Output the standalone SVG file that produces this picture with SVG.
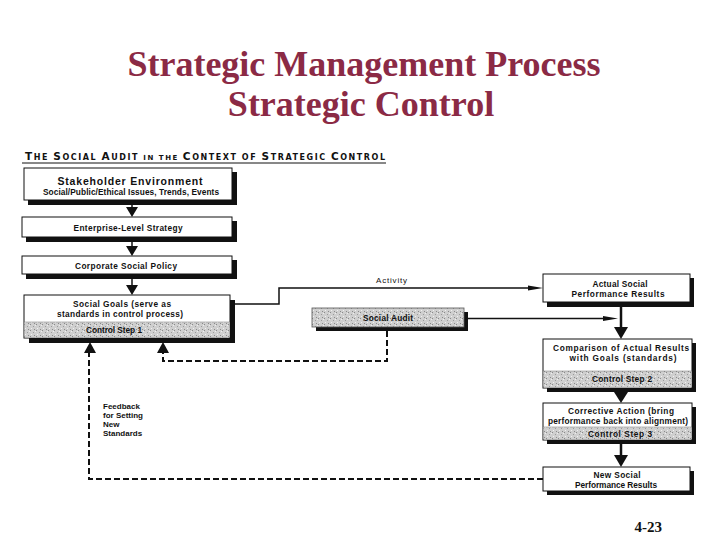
<svg xmlns="http://www.w3.org/2000/svg" width="720" height="540" viewBox="0 0 720 540">
<style>
.title{font-family:"Liberation Serif","Times New Roman",serif;font-weight:bold;font-size:36px;fill:#8b2a45;text-anchor:middle}
.t{font-family:"Liberation Sans",Arial,sans-serif;font-weight:bold;font-size:8.3px;fill:#111;text-anchor:middle}
.tl{font-family:"Liberation Sans",Arial,sans-serif;font-weight:bold;font-size:8px;fill:#111}
.hdr{font-family:"DejaVu Sans",sans-serif;font-weight:bold;fill:#111}
.box{fill:#fff;stroke:#111;stroke-width:1}
.sh{fill:#111}
.band{fill:url(#stip);stroke:none}
.ln{fill:none;stroke:#111;stroke-width:1.5}
.dash{fill:none;stroke:#111;stroke-width:2;stroke-dasharray:6 3}
.ah{fill:#111}
</style>
<defs>
<pattern id="stip" width="6" height="6" patternUnits="userSpaceOnUse">
<rect width="6" height="6" fill="#cfcfcf"/>
<rect x="0" y="0" width="1" height="1" fill="#8a8a8a"/>
<rect x="3" y="2" width="1" height="1" fill="#9a9a9a"/>
<rect x="1" y="4" width="1" height="1" fill="#f0f0f0"/>
<rect x="4" y="5" width="1" height="1" fill="#8a8a8a"/>
<rect x="5" y="1" width="1" height="1" fill="#eeeeee"/>
</pattern>
</defs>
<rect width="720" height="540" fill="#fff"/>

<text class="title" x="364" y="76">Strategic Management Process</text>
<text class="title" x="361" y="116">Strategic Control</text>

<g id="header">
<text class="hdr" x="25" y="160" textLength="360" lengthAdjust="spacing"><tspan font-size="10.5">T</tspan><tspan font-size="8">HE </tspan><tspan font-size="10.5">S</tspan><tspan font-size="8">OCIAL </tspan><tspan font-size="10.5">A</tspan><tspan font-size="8">UDIT </tspan><tspan font-size="7">IN THE </tspan><tspan font-size="10.5">C</tspan><tspan font-size="8">ONTEXT OF </tspan><tspan font-size="10.5">S</tspan><tspan font-size="8">TRATEGIC </tspan><tspan font-size="10.5">C</tspan><tspan font-size="8">ONTROL</tspan></text>
<line x1="22" y1="163" x2="386" y2="163" stroke="#111" stroke-width="1"/>
</g>

<g id="stakeholder">
<rect class="sh" x="28" y="172" width="209" height="33"/>
<rect class="box" x="24" y="168" width="208" height="32"/>
<text class="t" x="130" y="185" style="font-size:10.5px" textLength="145" lengthAdjust="spacing">Stakeholder Environment</text>
<text class="t" x="131" y="195" textLength="176" lengthAdjust="spacing">Social/Public/Ethical Issues, Trends, Events</text>
</g>

<g id="enterprise">
<rect class="sh" x="26" y="221" width="211" height="21"/>
<rect class="box" x="22" y="217" width="210" height="20"/>
<text class="t" x="128" y="231" textLength="109" lengthAdjust="spacing">Enterprise-Level Strategy</text>
</g>

<g id="policy">
<rect class="sh" x="26" y="260" width="211" height="19"/>
<rect class="box" x="22" y="256" width="210" height="18"/>
<text class="t" x="126" y="269" textLength="102" lengthAdjust="spacing">Corporate Social Policy</text>
</g>

<g id="goals">
<rect class="sh" x="29" y="300" width="206" height="43"/>
<rect class="box" x="24" y="295" width="206" height="43"/>
<rect class="band" x="24.5" y="322" width="205" height="15.5"/>
<line x1="24" y1="322" x2="230" y2="322" stroke="#777" stroke-width="0.5"/>
<text class="t" x="122" y="307" textLength="98" lengthAdjust="spacing">Social Goals (serve as</text>
<text class="t" x="120" y="317" textLength="126" lengthAdjust="spacing">standards in control process)</text>
<text class="t" x="114" y="333" textLength="56" lengthAdjust="spacing">Control Step 1</text>
</g>

<g id="audit">
<rect class="sh" x="316" y="312" width="152" height="19"/>
<rect x="312" y="308" width="152" height="19" fill="url(#stip)" stroke="#555" stroke-width="0.8"/>
<text class="t" x="388" y="321" textLength="50" lengthAdjust="spacing">Social Audit</text>
</g>

<g id="actual">
<rect class="sh" x="547" y="278" width="147" height="29"/>
<rect class="box" x="543" y="274" width="147" height="28"/>
<text class="t" x="620" y="287" textLength="55" lengthAdjust="spacing">Actual Social</text>
<text class="t" x="618" y="297" textLength="93" lengthAdjust="spacing">Performance Results</text>
</g>

<g id="comparison">
<rect class="sh" x="547" y="343" width="149" height="49"/>
<rect class="box" x="543" y="339" width="149" height="49"/>
<rect class="band" x="543.5" y="371" width="148" height="16.5"/>
<line x1="543" y1="371" x2="692" y2="371" stroke="#777" stroke-width="0.5"/>
<text class="t" x="621" y="351" textLength="136" lengthAdjust="spacing">Comparison of Actual Results</text>
<text class="t" x="623" y="361" textLength="107" lengthAdjust="spacing">with Goals (standards)</text>
<text class="t" x="622" y="382" textLength="60" lengthAdjust="spacing">Control Step 2</text>
</g>

<g id="corrective">
<rect class="sh" x="547" y="407" width="149" height="37"/>
<rect class="box" x="543" y="403" width="149" height="37"/>
<rect class="band" x="543.5" y="427" width="148" height="12.5"/>
<line x1="543" y1="427" x2="692" y2="427" stroke="#777" stroke-width="0.5"/>
<text class="t" x="621" y="414" textLength="106" lengthAdjust="spacing">Corrective Action (bring</text>
<text class="t" x="618" y="424" textLength="140" lengthAdjust="spacing">performance back into alignment)</text>
<text class="t" x="620" y="437" textLength="64" lengthAdjust="spacing">Control Step 3</text>
</g>

<g id="newresults">
<rect class="sh" x="547" y="471" width="147" height="24"/>
<rect class="box" x="543" y="467" width="147" height="24"/>
<text class="t" x="617" y="478" textLength="47" lengthAdjust="spacing">New Social</text>
<text class="t" x="616" y="488" textLength="82" lengthAdjust="spacing">Performance Results</text>
</g>

<g id="feedback-label">
<text class="tl" x="103" y="409">Feedback</text>
<text class="tl" x="103" y="418">for Setting</text>
<text class="tl" x="103" y="427">New</text>
<text class="tl" x="103" y="436">Standards</text>
</g>

<g id="connectors">
<line class="ln" x1="132" y1="205" x2="132" y2="210"/>
<polygon class="ah" points="126,207 138,207 132,217"/>
<line class="ln" x1="132" y1="242" x2="132" y2="249"/>
<polygon class="ah" points="126,246 138,246 132,256"/>
<line class="ln" x1="132" y1="279" x2="132" y2="288"/>
<polygon class="ah" points="126,285 138,285 132,295"/>

<polyline class="ln" points="235,304 279,304 279,288 532,288"/>
<polygon class="ah" points="528,285.5 543,288 528,290.5"/>
<text class="tl" x="376" y="283" style="font-weight:normal" textLength="31" lengthAdjust="spacing">Activity</text>

<line class="ln" x1="468" y1="318.5" x2="606" y2="318.5"/>
<polygon class="ah" points="603,316 618,318.5 603,321"/>

<line x1="621" y1="307" x2="621" y2="330" stroke="#111" stroke-width="2.5"/>
<polygon class="ah" points="614,327 628,327 621,339"/>
<line x1="621" y1="392" x2="621" y2="395" stroke="#111" stroke-width="2.5"/>
<polygon class="ah" points="614,392 628,392 621,403"/>
<line x1="621" y1="444" x2="621" y2="457" stroke="#111" stroke-width="2.5"/>
<polygon class="ah" points="614,455 628,455 621,467"/>

<polyline class="dash" points="543,479 89,479 89,352"/>
<polygon class="ah" points="84,353 96,353 90,342"/>
<polyline class="dash" points="387,331 387,361 163,361 163,352"/>
<polygon class="ah" points="157,353 169,353 163,342"/>
</g>

<text x="662" y="532" font-family="'Liberation Serif','Times New Roman',serif" font-size="15" font-weight="bold" text-anchor="end" fill="#111">4-23</text>
</svg>
